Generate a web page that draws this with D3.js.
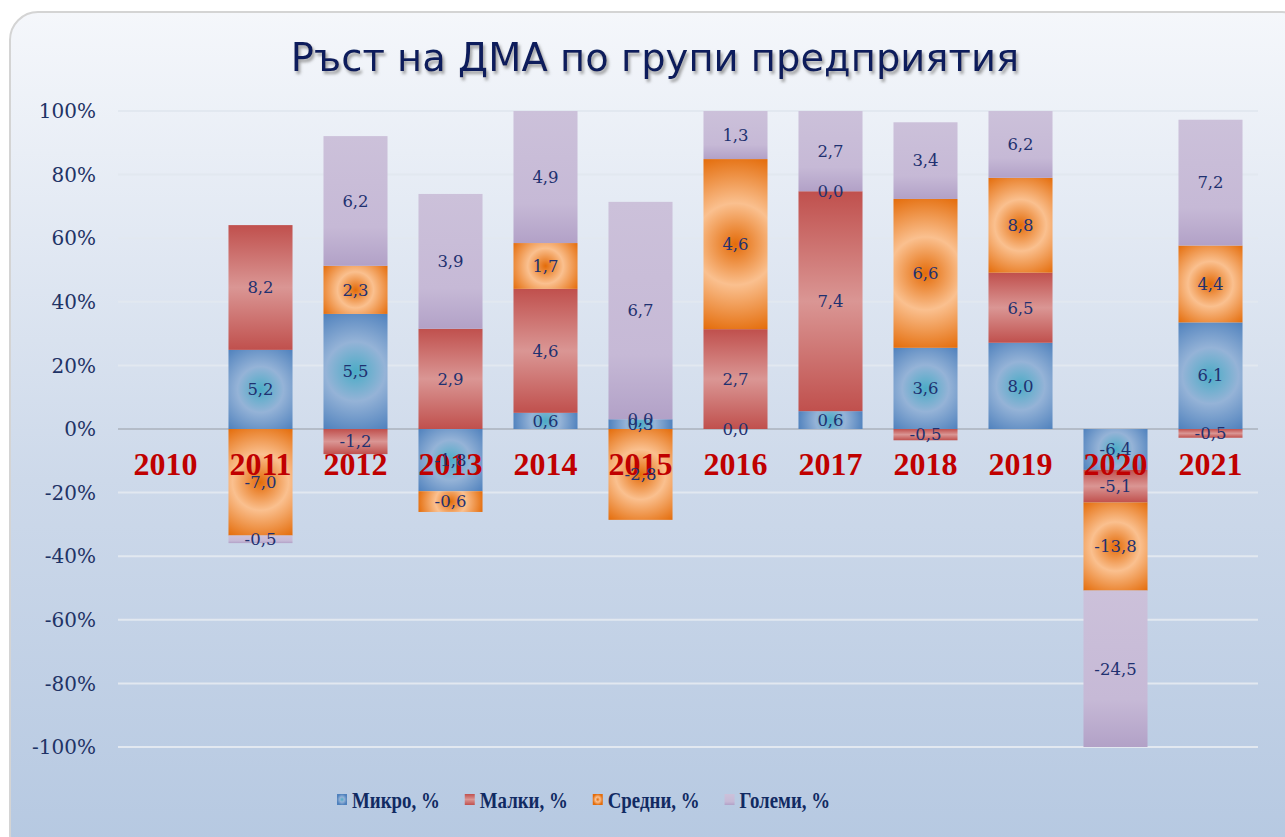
<!DOCTYPE html>
<html>
<head>
<meta charset="utf-8">
<script src="https://cdn.jsdelivr.net/npm/d3@7"></script>
<style>
  body { margin: 0; background: #fff; }
</style>
</head>
<body>
<svg id="chart" width="1285" height="837"></svg>
<script>
// data (growth in %, by enterprise group)
const years  = ['2010','2011','2012','2013','2014','2015','2016','2017','2018','2019','2020','2021'];
const mikro  = [null, 5.2, 5.5, -1.8, 0.6, 0.3, 0.0, 0.6, 3.6, 8.0, -6.4, 6.1];
const malki  = [null, 8.2, -1.2, 2.9, 4.6, 0.0, 2.7, 7.4, -0.5, 6.5, -5.1, -0.5];
const sredni = [null, -7.0, 2.3, -0.6, 1.7, -2.8, 4.6, 0.0, 6.6, 8.8, -13.8, 4.4];
const golemi = [null, -0.5, 6.2, 3.9, 4.9, 6.7, 1.3, 2.7, 3.4, 6.2, -24.5, 7.2];
const seriesNames = ['Микро, %', 'Малки, %', 'Средни, %', 'Големи, %'];
const yTicks = [-1, -0.8, -0.6, -0.4, -0.2, 0, 0.2, 0.4, 0.6, 0.8, 1];

const allSeries = [mikro, malki, sredni, golemi];

// plain hyphen minus + comma decimals, like the excel original
const loc = d3.formatLocale({decimal: ',', thousands: ' ', grouping: [3], currency: ['', ''], minus: '-', percent: '%'});

const svg = d3.select('#chart');
const defs = svg.append('defs');

// background panel gradient
const bg = defs.append('linearGradient').attr('id', 'bgGrad')
  .attr('x1', 0).attr('y1', 0).attr('x2', 0).attr('y2', 1);
bg.append('stop').attr('offset', '0%').attr('stop-color', '#f5f7fb');
bg.append('stop').attr('offset', '55%').attr('stop-color', '#cdd9ea');
bg.append('stop').attr('offset', '100%').attr('stop-color', '#b5c8e1');

const shadow = defs.append('filter').attr('id', 'tshadow')
  .attr('x', '-5%').attr('y', '-20%').attr('width', '110%').attr('height', '150%');
shadow.append('feDropShadow').attr('dx', 2).attr('dy', 3).attr('stdDeviation', 1.5)
  .attr('flood-color', '#7a7a7a').attr('flood-opacity', 0.7);

svg.append('rect')
  .attr('x', 10).attr('y', 12).attr('width', 1300).attr('height', 850)
  .attr('rx', 28).attr('ry', 28)
  .attr('fill', 'url(#bgGrad)')
  .attr('stroke', '#d4d4d4').attr('stroke-width', 2);

// scales
const x = d3.scaleBand().domain(years).range([118, 1258]).paddingInner(0.326).paddingOuter(0.163);
const y = d3.scaleLinear().domain([-1, 1]).range([747, 111]);

// gridlines
svg.append('g').selectAll('line')
  .data(yTicks)
  .join('line')
  .attr('x1', 118).attr('x2', 1258)
  .attr('y1', d => y(d)).attr('y2', d => y(d))
  .attr('stroke', d => d === 0 ? '#b4bcc8' : '#e2e8f0')
  .attr('stroke-width', 2);

// y axis labels
svg.append('g').selectAll('text')
  .data(yTicks)
  .join('text')
  .attr('x', 96)
  .attr('y', d => y(d))
  .attr('dy', '0.36em')
  .attr('text-anchor', 'end')
  .style('font-family', '"DejaVu Serif", serif')
  .style('font-size', '20px')
  .attr('fill', '#1f3366')
  .text(d => loc.format('.0%')(d));

// build 100% stacked segments (excel style: normalise by sum of abs values, zero goes up)
let segments = [];
years.forEach((yr, i) => {
  const vals = allSeries.map(s => s[i]);
  if (vals.some(v => v === null)) return;
  const total = d3.sum(vals, v => Math.abs(v));
  let pos = 0, neg = 0;
  vals.forEach((v, k) => {
    const p = v / total;
    let y0, y1;
    if (p >= 0) { y0 = pos; y1 = pos + p; pos = y1; }
    else { y1 = neg; y0 = neg + p; neg = y0; }
    segments.push({year: yr, key: k, value: v, y0: y0, y1: y1});
  });
});
console.log('segments', segments);

const radialStops = [
  [['0%', '#4bacc6'], ['45%', '#95b3d7'], ['100%', '#4f81bd']],
  null,
  [['0%', '#e46c0a'], ['45%', '#fac08f'], ['100%', '#e46c0a']],
  null
];
const linearStops = [
  null,
  [['0%', '#c0504d'], ['50%', '#da9694'], ['100%', '#c0504d']],
  null,
  [['0%', '#ccc1da'], ['70%', '#c6b9d6'], ['100%', '#b2a1c7']]
];

// gradients per segment
segments.forEach((d, n) => {
  const bx = x(d.year), bw = x.bandwidth();
  const top = y(d.y1), bot = y(d.y0);
  const h = Math.max(bot - top, 0.5);
  const id = 'g' + n;
  d.fillId = id;
  if (radialStops[d.key]) {
    const r = Math.sqrt((bw / 2) ** 2 + (h / 2) ** 2);
    const g = defs.append('radialGradient').attr('id', id)
      .attr('gradientUnits', 'userSpaceOnUse')
      .attr('cx', bx + bw / 2).attr('cy', top + h / 2).attr('r', r);
    radialStops[d.key].forEach(s => g.append('stop').attr('offset', s[0]).attr('stop-color', s[1]));
  } else {
    const g = defs.append('linearGradient').attr('id', id)
      .attr('x1', 0).attr('y1', 0).attr('x2', 0).attr('y2', 1);
    linearStops[d.key].forEach(s => g.append('stop').attr('offset', s[0]).attr('stop-color', s[1]));
  }
});

// bars
svg.append('g').selectAll('rect')
  .data(segments)
  .join('rect')
  .attr('x', d => x(d.year))
  .attr('width', x.bandwidth())
  .attr('y', d => y(d.y1))
  .attr('height', d => y(d.y0) - y(d.y1))
  .attr('fill', d => 'url(#' + d.fillId + ')');

// category labels (sit low, on top of the bars)
svg.append('g').selectAll('text')
  .data(years)
  .join('text')
  .attr('x', d => x(d) + x.bandwidth() / 2)
  .attr('y', 475)
  .attr('text-anchor', 'middle')
  .style('font-family', '"Liberation Serif", serif')
  .style('font-weight', 'bold')
  .style('font-size', '32px')
  .attr('fill', '#c00000')
  .text(d => d);

// data labels
const fmt = v => loc.format('.1f')(v);
svg.append('g').selectAll('text')
  .data(segments)
  .join('text')
  .attr('x', d => x(d.year) + x.bandwidth() / 2)
  .attr('y', d => y((d.y0 + d.y1) / 2))
  .attr('dy', '0.35em')
  .attr('text-anchor', 'middle')
  .style('font-family', '"DejaVu Serif", serif')
  .style('font-size', '16.5px')
  .attr('fill', '#1f3170')
  .text(d => fmt(d.value));

// title
svg.append('text')
  .attr('x', 655)
  .attr('y', 71)
  .attr('text-anchor', 'middle')
  .style('font-family', '"DejaVu Sans", sans-serif')
  .style('font-size', '38.5px')
  .attr('fill', '#0e1f5b')
  .attr('filter', 'url(#tshadow)')
  .text('Ръст на ДМА по групи предприятия');

// legend markers get the same gradients, just small
seriesNames.forEach((name, k) => {
  let g;
  if (radialStops[k]) {
    g = defs.append('radialGradient').attr('id', 'leg' + k);
    radialStops[k].forEach(s => g.append('stop').attr('offset', s[0]).attr('stop-color', s[1]));
  } else {
    g = defs.append('linearGradient').attr('id', 'leg' + k)
      .attr('x1', 0).attr('y1', 0).attr('x2', 0).attr('y2', 1);
    linearStops[k].forEach(s => g.append('stop').attr('offset', s[0]).attr('stop-color', s[1]));
  }
});

// legend text is a tall condensed bold face in the original -> squeeze it a bit
const legend = svg.append('g');
let lx = 337;
seriesNames.forEach((name, k) => {
  legend.append('rect')
    .attr('x', lx).attr('y', 794).attr('width', 10).attr('height', 11)
    .attr('fill', 'url(#leg' + k + ')');
  const t = legend.append('text')
    .attr('x', lx + 15).attr('y', 808)
    .style('font-family', '"Liberation Serif", serif')
    .style('font-weight', 'bold')
    .style('font-size', '23px')
    .attr('fill', '#112a62')
    .text(name);
  const w = t.node().getComputedTextLength() * 0.82;
  t.attr('textLength', w).attr('lengthAdjust', 'spacingAndGlyphs');
  lx += 15 + w + 25;
});
</script>
</body>
</html>
